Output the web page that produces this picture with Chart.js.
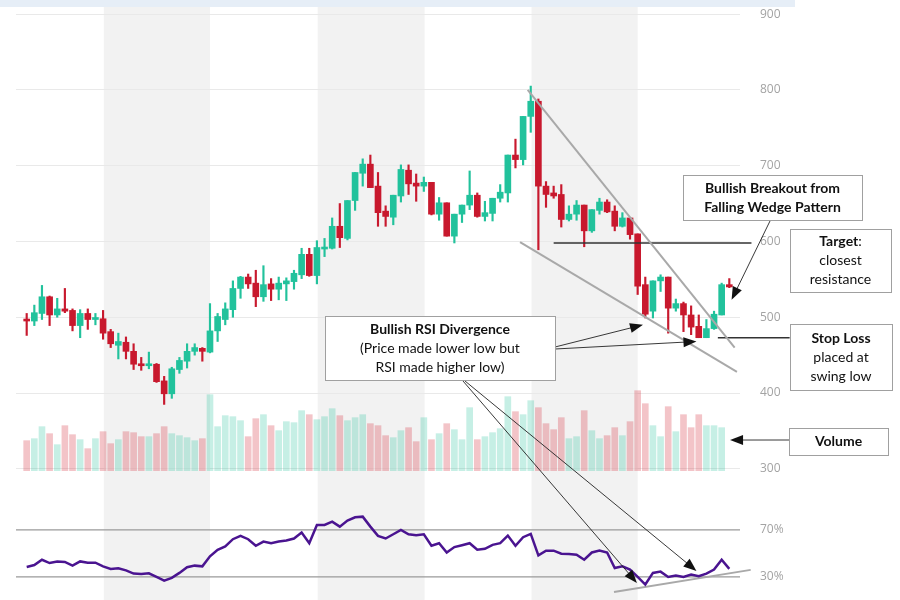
<!DOCTYPE html>
<html lang="en">
<head>
<meta charset="utf-8">
<title>Bullish Falling Wedge</title>
<script src="https://cdn.jsdelivr.net/npm/chart.js@4.4.1/dist/chart.umd.min.js"></script>
<style>
    html, body { margin: 0; padding: 0; background: #fff; }
    #contenedor { position: relative; width: 900px; height: 600px; }
    #franja { position: absolute; left: 0; top: 0; width: 795px; height: 7px; background: #e6eef7; }
</style>
</head>
<body>
<div id="contenedor">
    <canvas id="grafico" width="900" height="600"></canvas>
    <div id="franja"></div>
</div>
<script>
// velas (una por sesion)
const apertura = [497, 495, 505, 527, 503, 511, 509, 489, 505, 497,
                  498, 481, 463, 467, 455, 438, 436, 438, 416, 399,
                  431, 442, 455, 459, 454, 482, 497, 510, 538, 553,
                  545, 527, 544, 537, 544, 547, 556, 583, 555, 590,
                  591, 620, 604, 654, 690, 702, 673, 640, 632, 660,
                  694, 677, 673, 678, 636, 651, 607, 636, 648, 661,
                  633, 637, 657, 664, 714, 708, 765, 785, 673, 664,
                  662, 629, 636, 648, 614, 641, 652, 640, 620, 631,
                  610, 543, 508, 548, 553, 512, 518, 503, 488, 473,
                  485, 503, 543];
const maximos = [505, 516, 542, 528, 525, 538, 511, 510, 511, 505,
                 509, 484, 479, 474, 465, 447, 454, 439, 422, 434,
                 447, 465, 465, 460, 518, 505, 519, 548, 554, 557,
                 562, 568, 551, 553, 552, 562, 591, 591, 601, 604,
                 631, 650, 654, 691, 709, 714, 691, 647, 661, 701,
                 701, 689, 685, 678, 658, 651, 636, 648, 693, 664,
                 653, 657, 675, 714, 735, 765, 805, 788, 679, 673,
                 675, 647, 654, 648, 642, 657, 655, 647, 638, 631,
                 610, 553, 548, 556, 553, 524, 520, 515, 503, 497,
                 508, 545, 551];
const minimos = [476, 489, 497, 489, 500, 506, 482, 473, 484, 490,
                 471, 460, 445, 445, 431, 430, 432, 414, 385, 393,
                 426, 433, 450, 442, 453, 468, 490, 500, 525, 538,
                 514, 521, 522, 523, 522, 537, 551, 554, 544, 580,
                 590, 592, 602, 641, 673, 671, 620, 620, 622, 652,
                 662, 653, 666, 635, 628, 607, 598, 625, 642, 632,
                 627, 627, 652, 652, 697, 701, 744, 589, 645, 657,
                 619, 627, 628, 593, 612, 636, 638, 614, 619, 603,
                 530, 499, 499, 534, 479, 508, 481, 477, 473, 473,
                 484, 503, 539];
const cierre = [495, 506, 527, 503, 511, 508, 489, 505, 497, 499,
                479, 465, 468, 455, 438, 436, 438, 415, 399, 432,
                443, 455, 460, 455, 482, 501, 511, 538, 553, 544,
                527, 543, 537, 545, 548, 558, 583, 555, 592, 592,
                620, 605, 654, 691, 702, 671, 638, 633, 661, 695,
                676, 673, 678, 636, 651, 607, 636, 648, 661, 633,
                638, 657, 665, 714, 708, 765, 785, 673, 662, 660,
                629, 636, 648, 614, 642, 652, 639, 620, 631, 609,
                541, 504, 548, 553, 512, 518, 503, 487, 473, 485,
                504, 543, 540];
const volumen = [30, 32, 44, 37, 26, 45, 36, 31, 22, 32,
                 39, 27, 31, 39, 38, 34, 34, 37, 44, 37,
                 35, 33, 30, 32, 76, 44, 55, 54, 50, 34,
                 52, 56, 45, 40, 49, 48, 60, 56, 51, 54,
                 62, 55, 50, 53, 56, 47, 45, 35, 33, 40,
                 43, 29, 53, 31, 37, 47, 41, 31, 63, 31,
                 34, 38, 42, 74, 59, 56, 70, 63, 47, 41,
                 53, 32, 34, 60, 40, 32, 35, 43, 35, 49,
                 80, 67, 45, 34, 64, 39, 56, 43, 56, 45,
                 45, 43, null];
const rsi = [38.5, 40.1, 44.6, 41.8, 43.2, 42.7, 39.6, 43.2, 42.1, 42.1,
             39.0, 36.8, 37.3, 35.6, 32.8, 32.5, 33.1, 30.0, 26.9, 29.2,
             33.4, 38.2, 39.6, 39.0, 47.5, 53.1, 55.9, 62.1, 64.9, 62.1,
             56.5, 60.1, 58.7, 60.1, 61.0, 62.7, 67.7, 58.7, 74.2, 74.2,
             77.0, 72.8, 77.9, 80.7, 81.3, 72.8, 64.9, 62.7, 66.3, 70.0,
             66.3, 65.5, 66.3, 56.5, 58.7, 50.8, 55.4, 57.0, 58.7, 53.1,
             53.9, 57.3, 58.7, 65.2, 56.5, 63.8, 66.6, 48.3, 52.3, 52.3,
             49.7, 49.4, 48.9, 44.6, 50.8, 52.5, 50.8, 37.6, 39.0, 36.2,
             30.0, 23.5, 33.4, 34.5, 30.0, 31.1, 30.0, 32.0, 30.6, 32.8,
             36.2, 44.6, 36.8];

const ticksPrecio = [300, 400, 500, 600, 700, 800, 900];
const ticksRsi = [30, 70];

// rangos de sesiones sombreados
const bandas = [[10.1, 24], [38.1, 52.1], [66.1, 80]];

// trazos dibujados sobre el grafico [sesion, valor]
const cunaSuperior = [[65.6, 800], [92.7, 460]];
const cunaInferior = [[64.6, 599], [93, 428]];
const soporteRsi = [[76.9, 17.2], [94.8, 36]];
const resistencia = [[69, 598], [94.9, 598]];
const stopLoss = [[90.5, 473], [99.9, 473]];

const VERDE = '#22c29c';
const ROJO = '#c8192e';
const X_MIN = -1.4;
const X_MAX = 93.4;

const indices = apertura.map((_, i) => i);
const sube = i => cierre[i] >= apertura[i];
const coloresVela = indices.map(i => sube(i) ? VERDE : ROJO);
const coloresVolumen = indices.map(i => sube(i) ? 'rgba(34,194,156,0.26)' : 'rgba(214,58,72,0.3)');

function lineaDataset(puntos, eje, color, ancho) {
    return {
        type: 'line',
        data: puntos.map(p => ({ x: p[0], y: p[1] })),
        yAxisID: eje,
        borderColor: color,
        borderWidth: ancho,
        pointRadius: 0,
        fill: false,
        clip: false,
        tension: 0,
        order: 1
    };
}

const bandasFondo = {
    id: 'bandasFondo',
    beforeDraw(chart) {
        const { ctx, chartArea, scales } = chart;
        ctx.save();
        ctx.fillStyle = '#f2f2f2';
        bandas.forEach(([a, b]) => {
            const x1 = scales.x.getPixelForValue(a);
            const x2 = scales.x.getPixelForValue(b);
            ctx.fillRect(x1, chartArea.top, x2 - x1, chartArea.bottom - chartArea.top);
        });
        ctx.restore();
    }
};

function flecha(ctx, x1, y1, x2, y2) {
    const ang = Math.atan2(y2 - y1, x2 - x1);
    const largo = 13;
    const ancho = 5;
    ctx.beginPath();
    ctx.moveTo(x1, y1);
    ctx.lineTo(x2 - Math.cos(ang) * largo * 0.8, y2 - Math.sin(ang) * largo * 0.8);
    ctx.stroke();
    ctx.beginPath();
    ctx.moveTo(x2, y2);
    ctx.lineTo(x2 - Math.cos(ang) * largo - Math.sin(ang) * ancho, y2 - Math.sin(ang) * largo + Math.cos(ang) * ancho);
    ctx.lineTo(x2 - Math.cos(ang) * largo + Math.sin(ang) * ancho, y2 - Math.sin(ang) * largo - Math.cos(ang) * ancho);
    ctx.closePath();
    ctx.fill();
}

const FUENTE = 'Lato, "Open Sans", sans-serif';

// cajas de texto (pixeles)
const cajas = [
    { x: 683, y: 175, w: 179, h: 45, lineas: [[['Bullish Breakout from', true]], [['Falling Wedge Pattern', true]]] },
    { x: 790, y: 229, w: 101, h: 63, lineas: [[['Target', true], [':', false]], [['closest', false]], [['resistance', false]]] },
    { x: 790, y: 324, w: 102, h: 66, lineas: [[['Stop Loss', true]], [['placed at', false]], [['swing low', false]]] },
    { x: 789, y: 428, w: 99, h: 27, lineas: [[['Volume', true]]] },
    { x: 325, y: 316, w: 230, h: 64, lineas: [[['Bullish RSI Divergence', true]], [['(Price made lower low but', false]], [['RSI made higher low)', false]]] }
];

const anotaciones = {
    id: 'anotaciones',
    afterDraw(chart) {
        const { ctx, chartArea, scales } = chart;
        const X = v => scales.x.getPixelForValue(v);
        const Y = v => scales.y.getPixelForValue(v);
        const YR = v => scales.yr.getPixelForValue(v);
        ctx.save();

        // etiquetas del RSI
        ctx.fillStyle = '#a3a3a3';
        ctx.font = '12px "Open Sans", sans-serif';
        ctx.textAlign = 'left';
        ctx.textBaseline = 'middle';
        ticksRsi.forEach(v => ctx.fillText(v + '%', chartArea.right + 20, YR(v)));

        // flechas
        ctx.strokeStyle = '#222';
        ctx.fillStyle = '#111';
        ctx.lineWidth = 0.9;
        flecha(ctx, 770, 221, X(92.3), Y(523));
        flecha(ctx, 555, 347, X(80.7), Y(490));
        flecha(ctx, 555, 349, X(87.7), Y(468));
        flecha(ctx, 463, 381, X(79.9), YR(24.9));
        flecha(ctx, 465, 381, X(87.7), YR(35.1));
        flecha(ctx, 789, 440, X(92.1), Y(338));

        // cajas
        cajas.forEach(c => {
            ctx.fillStyle = '#fff';
            ctx.fillRect(c.x, c.y, c.w, c.h);
            ctx.strokeStyle = '#a0a0a0';
            ctx.lineWidth = 1;
            ctx.strokeRect(c.x + 0.5, c.y + 0.5, c.w, c.h);
            const alto = 19;
            const y0 = c.y + c.h / 2 - (c.lineas.length - 1) * alto / 2;
            ctx.fillStyle = '#111';
            ctx.textBaseline = 'middle';
            ctx.textAlign = 'left';
            c.lineas.forEach((partes, k) => {
                let total = 0;
                partes.forEach(([t, b]) => {
                    ctx.font = (b ? 'bold ' : '') + '14px ' + FUENTE;
                    total += ctx.measureText(t).width;
                });
                let x = c.x + c.w / 2 - total / 2;
                partes.forEach(([t, b]) => {
                    ctx.font = (b ? 'bold ' : '') + '14px ' + FUENTE;
                    ctx.fillText(t, x, y0 + k * alto);
                    x += ctx.measureText(t).width;
                });
            });
        });
        ctx.restore();
    }
};

const ctx = document.getElementById('grafico').getContext('2d');

new Chart(ctx, {
    type: 'bar',
    data: {
        datasets: [
            lineaDataset(cunaSuperior, 'y', '#a9a9a9', 2),
            lineaDataset(cunaInferior, 'y', '#a9a9a9', 2),
            lineaDataset(soporteRsi, 'yr', '#a9a9a9', 2),
            lineaDataset(resistencia, 'y', '#333', 1.6),
            lineaDataset(stopLoss, 'y', '#333', 1.6),
            lineaDataset([[X_MIN, ticksRsi[1]], [X_MAX, ticksRsi[1]]], 'yr', '#9a9a9a', 1.4),
            lineaDataset([[X_MIN, ticksRsi[0]], [X_MAX, ticksRsi[0]]], 'yr', '#9a9a9a', 1.4),
            {
                type: 'line',
                data: indices.map(i => ({ x: i, y: rsi[i] })),
                yAxisID: 'yr',
                borderColor: '#4a1490',
                borderWidth: 2.5,
                pointRadius: 0,
                tension: 0,
                order: 0
            },
            {
                data: indices.map(i => ({ x: i, y: volumen[i] })),
                yAxisID: 'yv',
                backgroundColor: coloresVolumen,
                barThickness: 6,
                grouped: false,
                order: 3
            },
            {
                data: indices.map(i => ({ x: i, y: [minimos[i], maximos[i]] })),
                yAxisID: 'y',
                backgroundColor: coloresVela,
                barThickness: 1.5,
                grouped: false,
                order: 2
            },
            {
                data: indices.map(i => ({ x: i, y: [apertura[i], cierre[i]] })),
                yAxisID: 'y',
                backgroundColor: coloresVela,
                barThickness: 6,
                minBarLength: 2,
                grouped: false,
                order: 2
            }
        ]
    },
    options: {
        responsive: false,
        animation: false,
        layout: { padding: { left: 16, right: 0, top: 0, bottom: 0 } },
        plugins: { legend: { display: false }, tooltip: { enabled: false } },
        scales: {
            x: { type: 'linear', min: X_MIN, max: X_MAX, display: false, offset: false },
            y: {
                position: 'right',
                min: 127,
                max: 918.5,
                afterBuildTicks: axis => { axis.ticks = ticksPrecio.map(v => ({ value: v })); },
                afterFit: axis => { axis.width = 160; },
                grid: { color: '#e9e9e9', drawTicks: true, tickLength: 20, tickColor: 'rgba(0,0,0,0)' },
                border: { display: false },
                ticks: { padding: 0, color: '#a3a3a3', font: { family: '"Open Sans", sans-serif', size: 12, lineHeight: 0.01 } }
            },
            yv: { display: false, min: -129.3, max: 470.7 },
            yr: { display: false, min: 10.4, max: 521 }
        }
    },
    plugins: [bandasFondo, anotaciones]
});
</script>
</body>
</html>
